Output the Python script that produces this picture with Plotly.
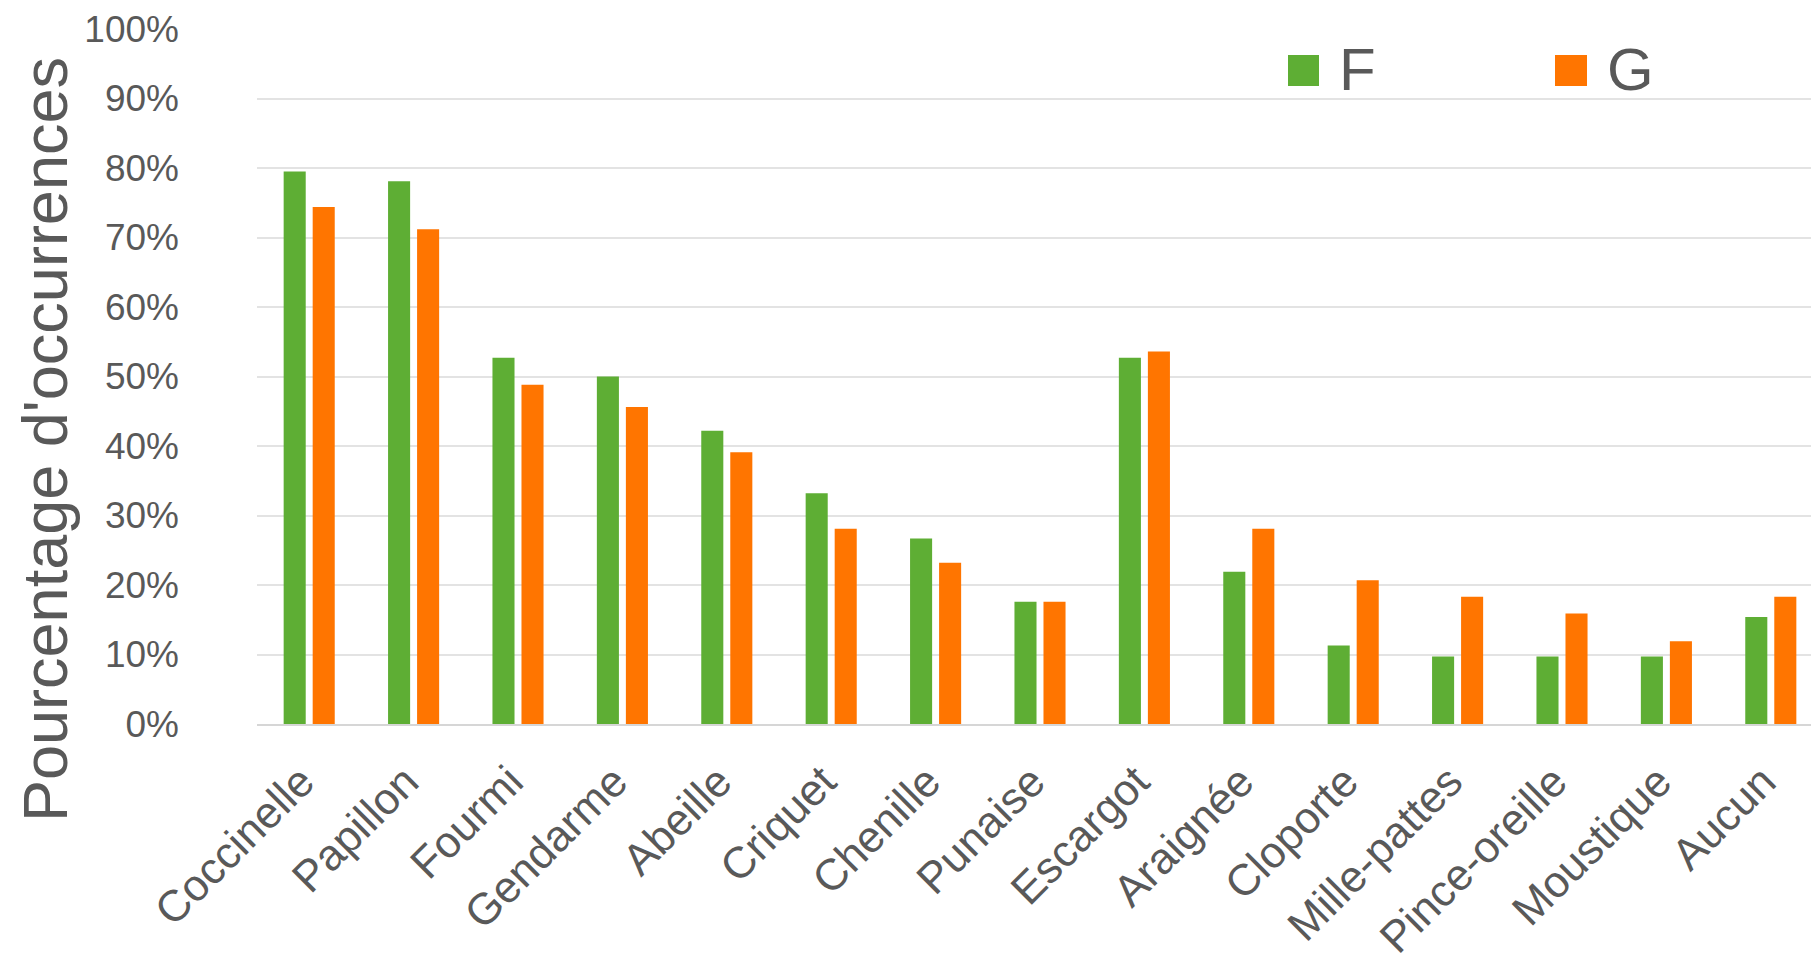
import plotly.graph_objects as go

categories = ["Coccinelle", "Papillon", "Fourmi", "Gendarme", "Abeille", "Criquet",
              "Chenille", "Punaise", "Escargot", "Araignée", "Cloporte", "Mille-pattes",
              "Pince-oreille", "Moustique", "Aucun"]
values_F = [0.795, 0.781, 0.527, 0.500, 0.422, 0.332, 0.267, 0.176, 0.527, 0.219,
            0.113, 0.097, 0.097, 0.097, 0.154]
values_G = [0.744, 0.712, 0.488, 0.456, 0.391, 0.281, 0.232, 0.176, 0.536, 0.281,
            0.207, 0.183, 0.159, 0.119, 0.183]
series_names = ["F", "G"]
colors = ["#5EAE34", "#FF7500"]
y_ticks = [0, 0.1, 0.2, 0.3, 0.4, 0.5, 0.6, 0.7, 0.8, 0.9, 1.0]
y_ticklabels = ["0%", "10%", "20%", "30%", "40%", "50%", "60%", "70%", "80%", "90%", "100%"]
y_title = "Pourcentage d'occurrences"

FONT = "Arial, 'Liberation Sans', sans-serif"
TXT = "#595959"

fig = go.Figure()
for name, vals, col in zip(series_names, [values_F, values_G], colors):
    fig.add_trace(go.Bar(x=categories, y=vals, name=name, marker_color=col,
                         marker_line_width=0, showlegend=False))

# page body has an 8px margin: size the figure so the page fits the window
OFF = 8
W, H = 1819 - 2 * OFF, 972 - 2 * OFF
# plot area in window pixels: left 257, top 29, bottom (0%) 724, right = figure edge
ml = 257 - OFF
mt = 29 - OFF
mb = H - (724 - OFF)
mr = 0
PW = W - ml - mr
PH = H - mt - mb
CAT_PX = 104.4  # category spacing in the reference
x_range = [-0.5, -0.5 + PW / CAT_PX]


def px_x(p):
    return (p - OFF - ml) / PW


def px_y(p):
    return (H - mb - (p - OFF)) / PH


fig.update_layout(
    width=W, height=H,
    margin=dict(l=ml, r=mr, t=mt, b=mb, pad=0, autoexpand=False),
    paper_bgcolor="white", plot_bgcolor="white",
    barmode="group", bargap=0.444, bargroupgap=0.24,
    font=dict(family=FONT, color=TXT, size=37),
    showlegend=False,
)
fig.update_yaxes(range=[0, 1], tickvals=y_ticks, ticktext=y_ticklabels,
                 showgrid=True, gridcolor="#E3E3E3", gridwidth=2,
                 zeroline=False, showline=False, ticks="", automargin=False,
                 ticklabelstandoff=77, tickfont=dict(size=37, color=TXT))
fig.update_xaxes(range=x_range, showline=True, linecolor="#D6D6D6", linewidth=2,
                 automargin=False, ticks="", tickangle=-45, ticklabelstandoff=12,
                 ticklabelshift=-8, tickfont=dict(size=44, color=TXT))

# custom legend (large square keys, as in the reference)
legend_keys = [(1288, 1319, 1337), (1555, 1587, 1605)]
for (x0, x1, xt), name, col in zip(legend_keys, series_names, colors):
    fig.add_shape(type="rect", xref="paper", yref="paper",
                  x0=px_x(x0), x1=px_x(x1), y0=px_y(86), y1=px_y(55),
                  fillcolor=col, line_width=0)
    fig.add_annotation(text=name, xref="paper", yref="paper",
                       x=px_x(xt), y=px_y(70), xanchor="left", yanchor="middle",
                       showarrow=False, font=dict(size=60, color=TXT, family=FONT))

fig.add_annotation(text=y_title, xref="paper", yref="paper",
                   x=px_x(45), y=px_y(440), borderpad=0,
                   xanchor="center", yanchor="middle", textangle=-90,
                   showarrow=False, font=dict(size=63, color=TXT, family=FONT))

fig.write_html("out.html")
